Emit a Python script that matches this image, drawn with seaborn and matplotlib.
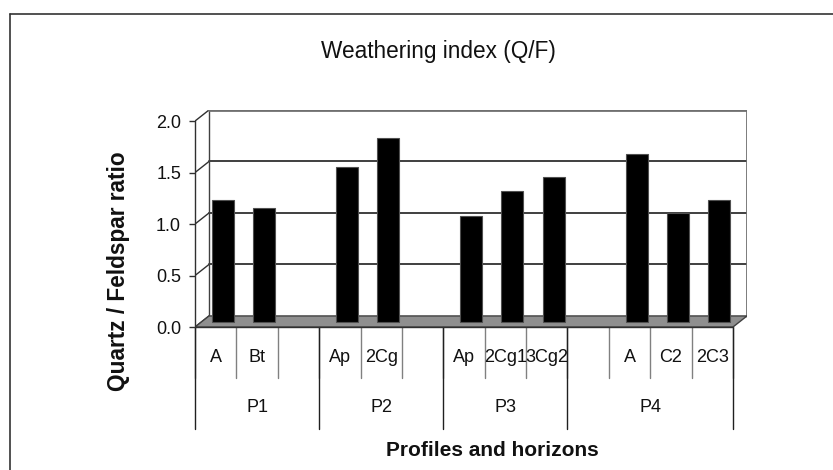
import matplotlib
matplotlib.use("Agg")
import matplotlib.pyplot as plt
import seaborn as sns
import pandas as pd
import numpy as np
from matplotlib.patches import Polygon
from matplotlib.transforms import ScaledTranslation

# ---- data ----
profiles = ["P1", "P2", "P3", "P4"]
slot_profile = ["P1", "P1", "P1", "P2", "P2", "P2", "P3", "P3", "P3", "P4", "P4", "P4", "P4"]
slot_horizon = ["A", "Bt", "", "Ap", "2Cg", "", "Ap", "2Cg1", "3Cg2", "", "A", "C2", "2C3"]
slot_value = [1.18, 1.10, None, 1.50, 1.78, None, 1.02, 1.27, 1.40, None, 1.63, 1.05, 1.18]
yticks = [0.0, 0.5, 1.0, 1.5, 2.0]
ytick_labels = ["0.0", "0.5", "1.0", "1.5", "2.0"]

title = "Weathering index (Q/F)"
ylabel = "Quartz / Feldspar ratio"
xlabel = "Profiles and horizons"

# ---- figure ----
sns.set_theme(style="white")
plt.rcParams["font.family"] = ["Liberation Sans", "DejaVu Sans"]

W, H, DPI = 833, 470, 100
fig = plt.figure(figsize=(W / DPI, H / DPI), dpi=DPI)

# pixel geometry (from top-left)
x_front_left, x_back_right = 195, 747
y_zero_front, y_top_back = 327, 110
n = len(slot_horizon)
slot_px = (733 - 195) / n
dx_px, dy_px = 14, 11
unit_px = 102.5
dx = dx_px / slot_px
dy = dy_px / unit_px

ax = fig.add_axes([x_front_left / W, (H - y_zero_front) / H,
                   (x_back_right - x_front_left) / W, (y_zero_front - y_top_back) / H])
ax.set_xlim(-0.5, n - 0.5 + dx)
ax.set_ylim(0, 2.0 + dy)

ids = [f"{p}_{i}" for i, p in enumerate(slot_profile)]
df = pd.DataFrame({"slot": ids, "value": slot_value}).dropna()

# floor
floor = Polygon([(-0.5, 0), (n - 0.5, 0), (n - 0.5 + dx, dy), (-0.5 + dx, dy)],
                closed=True, facecolor="#8f8f8f", edgecolor="#404040", lw=1.0, zorder=1)
ax.add_patch(floor)

# back wall gridlines and walls
for t in yticks[1:]:
    ax.plot([-0.5 + dx, n - 0.5 + dx], [t + dy, t + dy], color="#303030", lw=1.3, zorder=0.5)
for t in yticks:
    ax.plot([-0.5, -0.5 + dx], [t, t + dy], color="#303030", lw=1.0, zorder=0.5)
ax.plot([-0.5 + dx, -0.5 + dx], [dy, 2.0 + dy], color="#404040", lw=1.0, zorder=0.5)
ax.plot([n - 0.5 + dx, n - 0.5 + dx], [dy, 2.0 + dy], color="#707070", lw=2.0, zorder=0.5)
ax.plot([-0.5 + dx, n - 0.5 + dx], [2.0 + dy, 2.0 + dy], color="#707070", lw=2.0, zorder=0.5)

# bars
sns.barplot(data=df, x="slot", y="value", order=ids, color="black", width=0.53,
            saturation=1, edgecolor="#505050", linewidth=0.8, ax=ax, zorder=3)
shift = ScaledTranslation(dx_px / 2 / DPI, dy_px / 2 / DPI, fig.dpi_scale_trans)
for p in ax.patches:
    if p is floor:
        continue
    p.set_transform(ax.transData + shift)

ax.set_xlim(-0.5, n - 0.5 + dx)
ax.set_ylim(0, 2.0 + dy)

# axes / ticks
for s in ["top", "right", "bottom"]:
    ax.spines[s].set_visible(False)
ax.spines["left"].set_bounds(0, 2.0)
ax.spines["left"].set_color("#303030")
ax.spines["left"].set_linewidth(1.0)
ax.set_yticks(yticks)
ax.set_yticklabels(ytick_labels, fontsize=13, color="#111111")
ax.tick_params(axis="y", direction="out", length=4, width=1.0, color="#303030", pad=6, left=True)
ax.set_xticks([])
ax.set_xlabel("")
ax.set_ylabel("")

# category axis (two-level)
y_row = -51 / unit_px
y_grp = -102 / unit_px
for k in range(n + 1):
    ax.plot([k - 0.5, k - 0.5], [0, y_row], color="#808080", lw=1.0, clip_on=False, zorder=2)
bounds = [0]
for i in range(1, n):
    if slot_profile[i] != slot_profile[i - 1]:
        bounds.append(i)
bounds.append(n)
for b in bounds:
    ax.plot([b - 0.5, b - 0.5], [0, y_grp], color="#202020", lw=1.0, clip_on=False, zorder=2)
for i, h in enumerate(slot_horizon):
    if h:
        ax.text(i, -30 / unit_px, h, ha="center", va="center", fontsize=13,
                color="#111111", clip_on=False)
for j in range(len(bounds) - 1):
    ax.text((bounds[j] + bounds[j + 1] - 1) / 2, -80 / unit_px, slot_profile[bounds[j]],
            ha="center", va="center", fontsize=13, color="#111111", clip_on=False)

# front floor edge
ax.plot([-0.5, n - 0.5], [0, 0], color="#303030", lw=1.0, clip_on=False, zorder=2)

# titles
fig.text(438 / W, 1 - 52 / H, title, ha="center", va="center", fontsize=16.3, color="#111111")
fig.text(118 / W, 1 - 271 / H, ylabel, ha="center", va="center", rotation=90,
         fontsize=16.3, fontweight="bold", color="#111111")
fig.text(492 / W, 1 - 451 / H, xlabel, ha="center", va="center",
         fontsize=15, fontweight="bold", color="#111111")

# outer chart frame
fig.add_artist(plt.Line2D([10 / W, 10 / W], [0, 1 - 14 / H], color="#333333", lw=1.2,
                          transform=fig.transFigure))
fig.add_artist(plt.Line2D([10 / W, 1], [1 - 14 / H, 1 - 14 / H], color="#333333", lw=1.2,
                          transform=fig.transFigure))

fig.savefig("out.png", dpi=DPI)
